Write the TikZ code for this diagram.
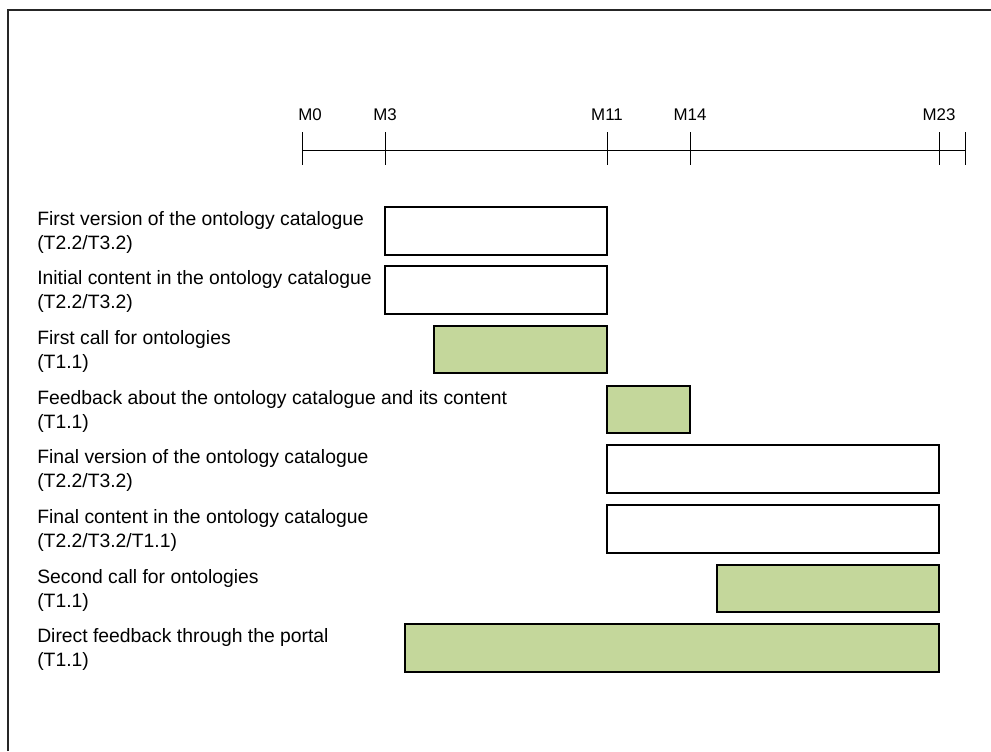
\documentclass[tikz,border=0pt]{standalone}
\usepackage{fontspec}
\setmainfont{Liberation Sans}
\definecolor{taskgreen}{RGB}{196,215,155}

\begin{document}
\begin{tikzpicture}[x=0.025cm, y=-0.025cm,
	task/.style={draw=black, line width=1.4pt, fill=white},
	work/.style={task, fill=taskgreen},
	tasklabel/.style={anchor=north west, inner sep=0pt, align=left, font=\fontsize{13.75}{17}\selectfont},
	milestone/.style={anchor=base, inner sep=0pt, font=\fontsize{12}{14}\selectfont}]
	\useasboundingbox (0,0) rectangle (991,751);
	\draw[line width=1.1pt, color=black!85] (8,751) -- (8,10) -- (991,10);
	% time line
	\draw[thin] (302,150) -- (965,150);
	\foreach \x in {302,385,607,690,939,965}
		\draw[thin] (\x,132) -- (\x,165);
	\node[milestone] (m0) at (310,120) {M0};
	\node[milestone] (m3) at (385,120) {M3};
	\node[milestone] (m11) at (607,120) {M11};
	\node[milestone] (m14) at (690,120) {M14};
	\node[milestone] (m23) at (939,120) {M23};
	% tasks
	\draw[task] (385,207) rectangle (607,255);
	\node[tasklabel] (first) at (37,211) {First version of the ontology catalogue\\(T2.2/T3.2)};
	\draw[task] (385,266) rectangle (607,314);
	\node[tasklabel] (initial) at (37,270) {Initial content in the ontology catalogue\\(T2.2/T3.2)};
	\draw[work] (434,326) rectangle (607,373);
	\node[tasklabel] (call1) at (37,330) {First call for ontologies\\(T1.1)};
	\draw[work] (607,386) rectangle (690,433);
	\node[tasklabel] (feedback) at (37,390) {Feedback about the ontology catalogue and its content\\(T1.1)};
	\draw[task] (607,445) rectangle (939,493);
	\node[tasklabel] (final) at (37,449) {Final version of the ontology catalogue\\(T2.2/T3.2)};
	\draw[task] (607,505) rectangle (939,553);
	\node[tasklabel] (content) at (37,509) {Final content in the ontology catalogue\\(T2.2/T3.2/T1.1)};
	\draw[work] (717,565) rectangle (939,612);
	\node[tasklabel] (call2) at (37,569) {Second call for ontologies\\(T1.1)};
	\draw[work] (405,624) rectangle (939,672);
	\node[tasklabel] (portal) at (37,628) {Direct feedback through the portal\\(T1.1)};
\end{tikzpicture}
\end{document}
